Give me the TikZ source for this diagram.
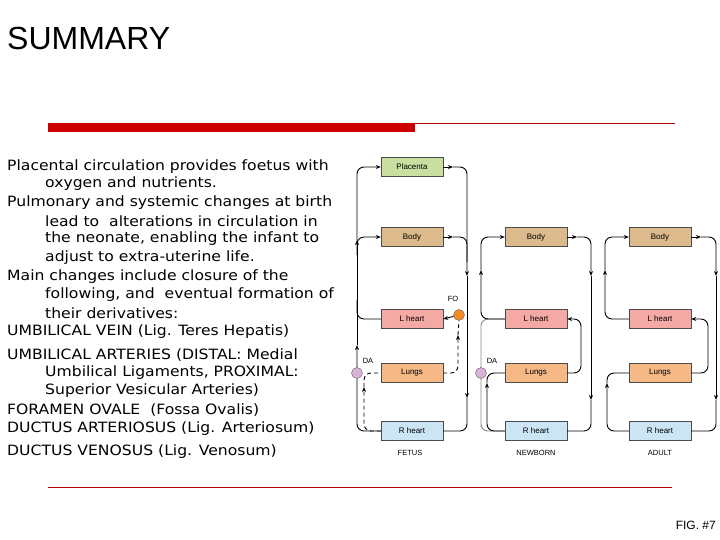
\documentclass[tikz,border=0pt]{standalone}
\usepackage{fontspec}
\setmainfont{DejaVu Sans}
\newfontfamily\arialf{Liberation Sans}
\newfontfamily\bodyf{DejaVu Sans}[FakeStretch=1.1]
\usetikzlibrary{arrows.meta}
\begin{document}
\begin{tikzpicture}[x=1pt,y=-1pt,
 box/.style={draw=black!70,line width=0.4pt,minimum width=62pt,minimum height=19pt,inner sep=0pt,font=\arialf\fontsize{8}{9}\selectfont},
 ln/.style={line width=0.9pt,rounded corners=7pt,-{Stealth[length=5pt,width=4pt]}},
 pl/.style={line width=0.9pt,rounded corners=7pt},
 dsh/.style={dashed,dash pattern=on 4pt off 3pt},
 txt/.style={anchor=west,inner sep=0pt,font=\bodyf\fontsize{14.2}{15}\selectfont},
 lab/.style={font=\arialf\fontsize{7.5}{9}\selectfont,inner sep=0pt},
 circ/.style={circle,draw=black!60,minimum size=11pt,inner sep=0pt}]
\useasboundingbox[fill=white] (0,0) rectangle (720,540);
\node[anchor=west,inner sep=0pt,font=\arialf\fontsize{32}{34}\selectfont] (title) at (7,38) {SUMMARY};
\fill[red!80!black] (48,123) rectangle (415,132);
\draw[red!70!black,line width=0.5pt] (415,123.5) -- (675,123.5);
\draw[red!70!black,line width=0.5pt] (48,487) -- (672,487);
\node[anchor=east,inner sep=0pt,font=\arialf\fontsize{12}{14}\selectfont] (fig) at (716,525) {FIG. \#7};
% text
\node[txt] (t1) at (7,167) {Placental circulation provides foetus with};
\node[txt] (t2) at (45,184) {oxygen and nutrients.};
\node[txt] (t3) at (7,203) {Pulmonary and systemic changes at birth};
\node[txt] (t4) at (45,221) {lead to\ \ alterations in circulation in};
\node[txt] (t5) at (45,239) {the neonate, enabling the infant to};
\node[txt] (t6) at (45,258) {adjust to extra-uterine life.};
\node[txt] (t7) at (7,277) {Main changes include closure of the};
\node[txt] (t8) at (45,295) {following, and\ \ eventual formation of};
\node[txt] (t9) at (45,313) {their derivatives:};
\node[txt] (t10) at (7,332) {UMBILICAL VEIN (Lig. Teres Hepatis)};
\node[txt] (t11) at (7,355) {UMBILICAL ARTERIES (DISTAL: Medial};
\node[txt] (t12) at (45,373) {Umbilical Ligaments, PROXIMAL:};
\node[txt] (t13) at (45,391) {Superior Vesicular Arteries)};
\node[txt] (t14) at (7,410) {FORAMEN OVALE\ \ (Fossa Ovalis)};
\node[txt] (t15) at (7,429) {DUCTUS ARTERIOSUS (Lig. Arteriosum)};
\node[txt] (t16) at (7,452) {DUCTUS VENOSUS (Lig. Venosum)};
% boxes
\definecolor{cpl}{HTML}{C9DFA0}\definecolor{cbo}{HTML}{DDBA8C}
\definecolor{clh}{HTML}{F4A9A5}\definecolor{clu}{HTML}{F6B884}\definecolor{crh}{HTML}{CBE5F5}
\foreach \p/\x in {F/412,N/536,A/660}{
 \node[box,fill=cbo] (\p bo) at (\x,237) {Body};
 \node[box,fill=clh] (\p lh) at (\x,319) {L heart};
 \node[box,fill=clu] (\p lu) at (\x,373) {Lungs};
 \node[box,fill=crh] (\p rh) at (\x,431) {R heart};
}
\node[box,fill=cpl] (Fpl) at (412,167) {Placenta};
\node[lab] (lf) at (410,453) {FETUS};
\node[lab] (ln) at (536,453) {NEWBORN};
\node[lab] (la) at (660,453) {ADULT};
% FETUS
\draw[ln] (Fpl.east) -- (453,167);
\draw[ln] (453,167) -| (467,276);
\draw[ln] (467,276) -- (467,398);
\draw[pl] (467,398) |- (Frh.east);
\draw[ln] (Frh.west) -| (357,345);
\draw[ln] (357,345) -- (357,240);
\draw[ln] (357,240) |- (Fpl.west);
\draw[ln] (357,255) |- (Fbo.west);
\draw[ln] (Fbo.east) -- (453,237);
\draw[pl] (453,237) -| (467,262);
\draw[pl] (Flh.west) -| (357,300);
\node[circ,fill=orange!80!brown!90] (FO) at (459,315) {};
\node[lab] (lfo) at (453,299) {FO};
\draw[ln] (FO) -- (Flh.east);
\draw[ln,dsh] (Flu.east) -| (458,335);
\draw[pl,dsh] (458,335) -- (FO.south);
\draw[ln,dsh] (Frh.west) -| (364,387);
\draw[pl,dsh] (364,387) |- (Flu.west);
\node[circ,fill=violet!30] (FDA) at (357,373) {};
\node[lab] (lfda) at (368,361) {DA};
% NEWBORN
\draw[ln] (Nbo.east) -- (577,237);
\draw[ln] (577,237) -| (591,276);
\draw[ln] (591,276) -- (591,400);
\draw[pl] (591,400) |- (Nrh.east);
\draw[pl,black!45] (Nlh.west) -| (481,420) |- (Nrh.west);
\draw[ln] (Nlh.west) -| (481,270);
\draw[ln] (481,270) |- (Nbo.west);
\draw[ln] (Nrh.west) -| (487,383);
\draw[pl] (487,383) |- (Nlu.west);
\draw[ln] (Nlu.east) -| (581,319) -- (Nlh.east);
\node[circ,fill=violet!30] (NDA) at (481,373) {};
\node[lab] (lnda) at (492,361) {DA};
% ADULT
\draw[ln] (Abo.east) -- (701,237);
\draw[ln] (701,237) -| (716,276);
\draw[ln] (716,276) -- (716,400);
\draw[pl] (716,400) |- (Arh.east);
\draw[ln] (Alh.west) -| (605,270);
\draw[ln] (605,270) |- (Abo.west);
\draw[ln] (Arh.west) -| (607,383);
\draw[pl] (607,383) |- (Alu.west);
\draw[ln] (Alu.east) -| (708,319) -- (Alh.east);
\end{tikzpicture}
\end{document}
